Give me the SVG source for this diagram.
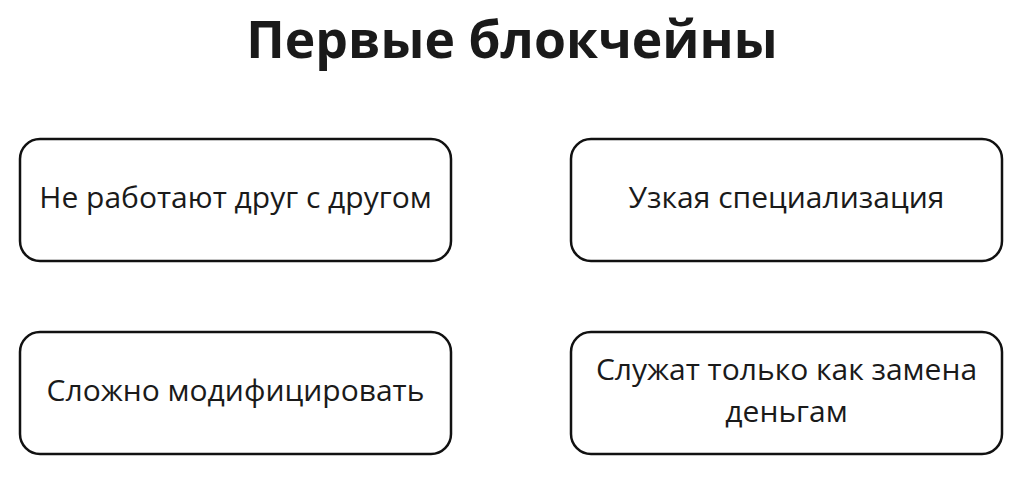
<svg xmlns="http://www.w3.org/2000/svg" width="1024" height="479" viewBox="0 0 1024 479">
<style>
.b{fill:#fff;stroke:#111;stroke-width:2.5}
.t{font-family:"Open Sans",sans-serif;font-size:30px;fill:#1a1a1a;text-anchor:middle}
.h{font-family:"Open Sans",sans-serif;font-size:51.7px;font-weight:bold;fill:#1a1a1a;text-anchor:middle}
</style>
<rect width="1024" height="479" fill="#fff"/>
<text class="h" x="512" y="58">Первые блокчейны</text>
<g id="n1"><rect class="b" x="20" y="139" width="431" height="122" rx="20"/><text class="t" x="235.5" y="208">Не работают друг с другом</text></g>
<g id="n2"><rect class="b" x="571" y="139" width="431" height="122" rx="20"/><text class="t" x="786.5" y="208">Узкая специализация</text></g>
<g id="n3"><rect class="b" x="20" y="332" width="431" height="122" rx="20"/><text class="t" x="235.5" y="401">Сложно модифицировать</text></g>
<g id="n4"><rect class="b" x="571" y="332" width="431" height="122" rx="20"/><text class="t" x="786.5" y="380">Служат только как замена</text><text class="t" x="786.5" y="422">деньгам</text></g>
<g id="connectors"/>
</svg>
